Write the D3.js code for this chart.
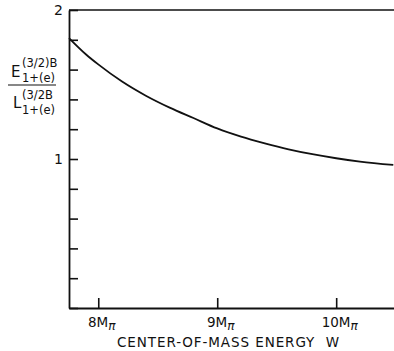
<!DOCTYPE html>
<html>
<head>
<meta charset="utf-8">
<script src="https://cdn.jsdelivr.net/npm/d3@7"></script>
<style>
  body { margin: 0; background: #fff; }
  svg { display: block; }
  text { font-family: "DejaVu Sans", sans-serif; fill: #111; }
</style>
</head>
<body>
<svg class="chart" width="394" height="351"></svg>
<script>
// data
var energyW = [7.754, 7.9, 8.0, 8.2, 8.4, 8.6, 8.8, 9.0, 9.2, 9.4, 9.6, 9.8, 10.0, 10.2, 10.48];
var ratio   = [1.812, 1.70, 1.635, 1.52, 1.425, 1.345, 1.275, 1.205, 1.150, 1.105, 1.065, 1.032, 1.005, 0.983, 0.960];
var xTicks = [8, 9, 10];
var xTickLabels = ["8M", "9M", "10M"];
var yTicks = [0, 0.2, 0.4, 0.6, 0.8, 1, 1.2, 1.4, 1.6, 1.8, 2];
var yTickLabels = {1: "1", 2: "2"};

var padLeft = 69, padTop = 10, padRight = 394, padBottom = 308;

var chart = d3.select("svg.chart");
var xScale = d3.scaleLinear().domain([7.754, 10.486]).range([padLeft, padRight]);
var yScale = d3.scaleLinear().domain([0, 2]).range([padBottom, padTop]);

// top border
chart.append("line")
  .attr("x1", xScale(7.754)).attr("x2", xScale(10.486))
  .attr("y1", yScale(2)).attr("y2", yScale(2))
  .attr("stroke", "#111").attr("stroke-width", 1.6);

var yAxis = d3.axisLeft(yScale).tickValues(yTicks)
  .tickSizeInner(-9).tickSizeOuter(0).tickPadding(6)
  .tickFormat(function(d) { return yTickLabels[d] || ""; });
var yG = chart.append("g").attr("transform", "translate(" + padLeft + ",0)").call(yAxis);

var xAxis = d3.axisBottom(xScale).tickValues(xTicks)
  .tickSizeInner(-10).tickSizeOuter(0).tickPadding(9)
  .tickFormat(function(d, i) { return xTickLabels[i]; });
var xG = chart.append("g").attr("transform", "translate(0," + padBottom + ")").call(xAxis);

chart.selectAll(".domain").attr("stroke", "#111").attr("stroke-width", 1.8);
chart.selectAll(".tick line").attr("stroke", "#111").attr("stroke-width", 1.6);
yG.selectAll(".tick text").attr("font-size", 14).attr("fill", "#111");
xG.selectAll(".tick text").attr("font-size", 13.5).attr("fill", "#111")
  .attr("dx", "3")
  .append("tspan").attr("font-size", 12).attr("font-style", "italic")
  .attr("dy", "3").text("\u03c0");

// curve
var line = d3.line()
  .x(function(d, i) { return xScale(energyW[i]); })
  .y(function(d) { return yScale(d); })
  .curve(d3.curveMonotoneX);
chart.append("path").attr("d", line(ratio))
  .attr("fill", "none").attr("stroke", "#111").attr("stroke-width", 1.8);

// x title
chart.append("text").attr("x", 117).attr("y", 347)
  .attr("font-size", 13.5).attr("textLength", 222).attr("lengthAdjust", "spacing")
  .attr("xml:space", "preserve")
  .text("CENTER-OF-MASS ENERGY  W");

// y label as a fraction
var yl = chart.append("g");
var num = yl.append("text").attr("x", 11).attr("y", 77).attr("font-size", 15);
num.append("tspan").text("E");
num.append("tspan").attr("font-size", 11.5).attr("x", 22).attr("y", 67).text("(3/2)B");
num.append("tspan").attr("font-size", 11.5).attr("x", 22).attr("y", 82).text("1+(e)");
yl.append("line").attr("x1", 8).attr("x2", 56).attr("y1", 85).attr("y2", 85)
  .attr("stroke", "#111").attr("stroke-width", 1.2);
var den = yl.append("text").attr("x", 13).attr("y", 108).attr("font-size", 15);
den.append("tspan").text("L");
den.append("tspan").attr("font-size", 11.5).attr("x", 22).attr("y", 99).text("(3/2B");
den.append("tspan").attr("font-size", 11.5).attr("x", 22).attr("y", 114).text("1+(e)");
</script>
</body>
</html>
